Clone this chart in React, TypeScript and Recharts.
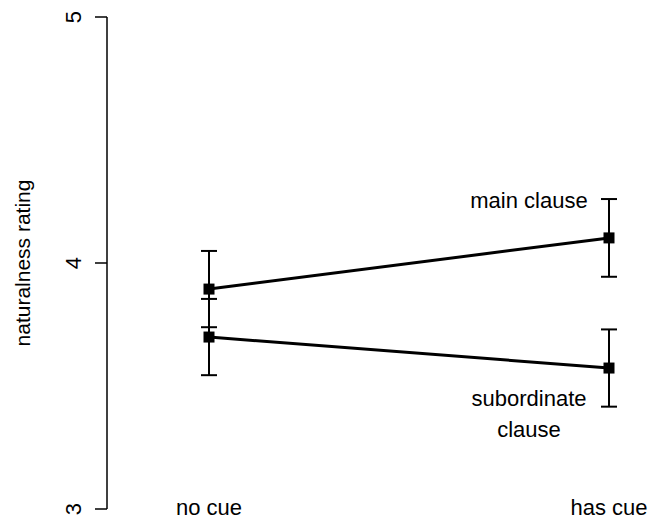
import { ErrorBar, Line, LineChart, XAxis, YAxis } from "recharts";

const cues = ["no cue", "has cue"];
const mainClause = [3.894, 4.102];
const mainClauseErr = [0.155, 0.158];
const subordinate = [3.699, 3.573];
const subordinateErr = [0.155, 0.157];
const yTicks = [3, 4, 5];

const data = cues.map((cue, i) => ({
  cue,
  main: mainClause[i],
  mainErr: mainClauseErr[i],
  sub: subordinate[i],
  subErr: subordinateErr[i],
}));

const font = "'Liberation Sans', Arial, Helvetica, sans-serif";

const SquareDot = (props: any) => {
  const { cx, cy } = props;
  if (cx == null || cy == null) return null;
  return <rect x={cx - 5.5} y={cy - 5.5} width={11} height={11} fill="#000" />;
};

const YTick = (props: any) => {
  const { x, y, payload } = props;
  const tx = x - 20;
  return (
    <text
      x={tx}
      y={y}
      transform={`rotate(-90 ${tx} ${y})`}
      textAnchor="middle"
      dominantBaseline="central"
      fontFamily={font}
      fontSize={22}
      fill="#000"
    >
      {payload.value}
    </text>
  );
};

const XTick = (props: any) => {
  const { x, y, payload } = props;
  return (
    <text
      x={x}
      y={y - 2}
      textAnchor="middle"
      dominantBaseline="central"
      fontFamily={font}
      fontSize={22}
      fill="#000"
    >
      {payload.value}
    </text>
  );
};

// text sits left of the last point of each line
const endLabel = (lines: string[], dy: number) => (props: any) => {
  const { x, y, index } = props;
  if (index !== data.length - 1) return null;
  return (
    <text
      x={x - 80}
      y={y + dy}
      textAnchor="middle"
      dominantBaseline="central"
      fontFamily={font}
      fontSize={22}
      fill="#000"
    >
      {lines.map((l, i) => (
        <tspan key={i} x={x - 80} dy={i === 0 ? 0 : 31}>
          {l}
        </tspan>
      ))}
    </text>
  );
};

export default function App() {
  return (
    <div style={{ position: "absolute", left: 0, top: 0, background: "#fff" }}>
      <LineChart
        width={651}
        height={519}
        data={data}
        margin={{ top: 17, right: 0, bottom: 0, left: 0 }}
      >
        <XAxis
          dataKey="cue"
          axisLine={false}
          tickLine={false}
          tickSize={0}
          tickMargin={0}
          height={10}
          padding={{ left: 102, right: 42 }}
          tick={<XTick />}
          interval={0}
        />
        <YAxis
          type="number"
          domain={[3, 5]}
          ticks={yTicks}
          width={107}
          axisLine={{ stroke: "#000", strokeWidth: 1.5 }}
          tickLine={{ stroke: "#000", strokeWidth: 1.5 }}
          tickSize={12}
          tick={<YTick />}
          label={(p: any) => {
            const vb = p.viewBox;
            const cx = 22;
            const cy = vb.y + vb.height / 2;
            return (
              <text
                x={cx}
                y={cy}
                transform={`rotate(-90 ${cx} ${cy})`}
                textAnchor="middle"
                dominantBaseline="central"
                fontFamily={font}
                fontSize={21}
                fill="#000"
              >
                naturalness rating
              </text>
            );
          }}
        />
        <Line
          dataKey="main"
          stroke="#000"
          strokeWidth={3}
          dot={<SquareDot />}
          activeDot={false}
          isAnimationActive={false}
          label={endLabel(["main clause"], -38)}
        >
          <ErrorBar dataKey="mainErr" width={8} stroke="#000" strokeWidth={2} />
        </Line>
        <Line
          dataKey="sub"
          stroke="#000"
          strokeWidth={3}
          dot={<SquareDot />}
          activeDot={false}
          isAnimationActive={false}
          label={endLabel(["subordinate", "clause"], 30)}
        >
          <ErrorBar dataKey="subErr" width={8} stroke="#000" strokeWidth={2} />
        </Line>
      </LineChart>
    </div>
  );
}
